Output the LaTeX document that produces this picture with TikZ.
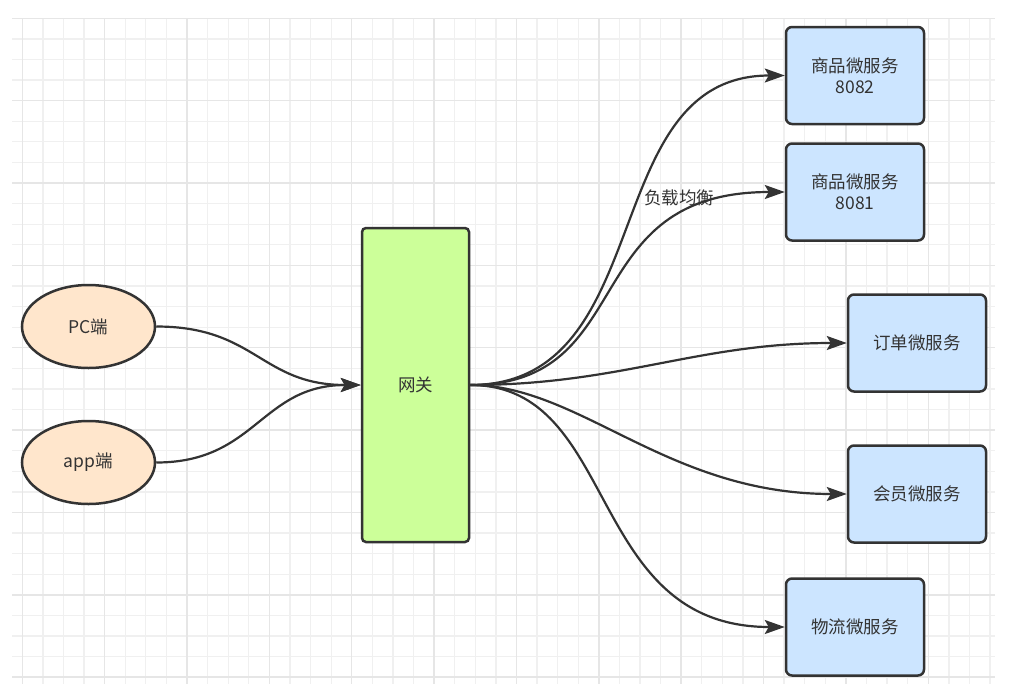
\documentclass[tikz,border=0pt]{standalone}
\usepackage{fontspec}
\setmainfont{Noto Sans CJK SC}
\usetikzlibrary{shapes.geometric,arrows.meta}
\definecolor{gridminor}{HTML}{F0F0F0}
\definecolor{gridmajor}{HTML}{E6E6E6}
\definecolor{ink}{HTML}{333333}
\definecolor{termfill}{HTML}{FFE6CC}
\definecolor{gwfill}{HTML}{CCFF99}
\definecolor{svcfill}{HTML}{CCE5FF}
\tikzset{
  gridminorline/.style={draw=gridminor,line width=1.3pt},
  gridmajorline/.style={draw=gridmajor,line width=1.4pt},
  basetext/.style={text=ink,font=\fontsize{17.5}{21}\selectfont,align=center},
  terminal/.style={basetext,ellipse,draw=ink,line width=2.5pt,fill=termfill,minimum width=133pt,minimum height=83pt,inner sep=0pt},
  gateway/.style={basetext,rectangle,rounded corners=4pt,draw=ink,line width=2.5pt,fill=gwfill,minimum width=107pt,minimum height=314pt,inner sep=0pt},
  service/.style={basetext,rectangle,rounded corners=6pt,draw=ink,line width=2.5pt,fill=svcfill,minimum width=138pt,minimum height=97pt,inner sep=0pt},
  conn/.style={draw=ink,line width=2.2pt,-{Stealth[length=20pt,width=14pt,inset=4pt]}},
  edgelabel/.style={basetext}
}
\begin{document}
\begin{tikzpicture}[x=1pt,y=-1pt]
\useasboundingbox[fill=white] (0,0) rectangle (1033,699);
% grid
\foreach \k in {0,...,47} \draw[gridminorline] ({22.3+20.59*\k},18.3) -- ({22.3+20.59*\k},684);
\foreach \k in {0,...,32} \draw[gridminorline] (12,{18.3+20.59*\k}) -- (995,{18.3+20.59*\k});
\foreach \k in {0,4,...,44} \draw[gridmajorline] ({22.3+20.59*\k},18.3) -- ({22.3+20.59*\k},684);
\foreach \k in {0,4,...,32} \draw[gridmajorline] (12,{18.3+20.59*\k}) -- (995,{18.3+20.59*\k});

% nodes
\node[terminal] (pc) at (88.5,326.5) {PC端};
\node[terminal] (app) at (88.5,462.5) {app端};
\node[gateway] (gw) at (415.5,385) {网关};
\node[service] (s1) at (855,75.5) {商品微服务\\8082};
\node[service] (s2) at (855,192) {商品微服务\\8081};
\node[service] (s3) at (917,343) {订单微服务};
\node[service] (s4) at (917,494) {会员微服务};
\node[service] (s5) at (855,627) {物流微服务};

% connectors
\draw[conn] (pc.east) .. controls +(100,0) and +(-100,0) .. (gw.west);
\draw[conn] (app.east) .. controls +(100,0) and +(-100,0) .. (gw.west);
\draw[conn] (gw.east) .. controls +(190,0) and +(-190,0) .. (s1.west);
\draw[conn] (gw.east) .. controls +(170,0) and +(-210,0) .. (s2.west);
\draw[conn] (gw.east) .. controls +(150,0) and +(-150,0) .. (s3.west);
\draw[conn] (gw.east) .. controls +(110,0) and +(-180,0) .. (s4.west);
\draw[conn] (gw.east) .. controls +(150,0) and +(-200,0) .. (s5.west);

\node[edgelabel] (lb) at (679,198) {负载均衡};
\end{tikzpicture}
\end{document}
